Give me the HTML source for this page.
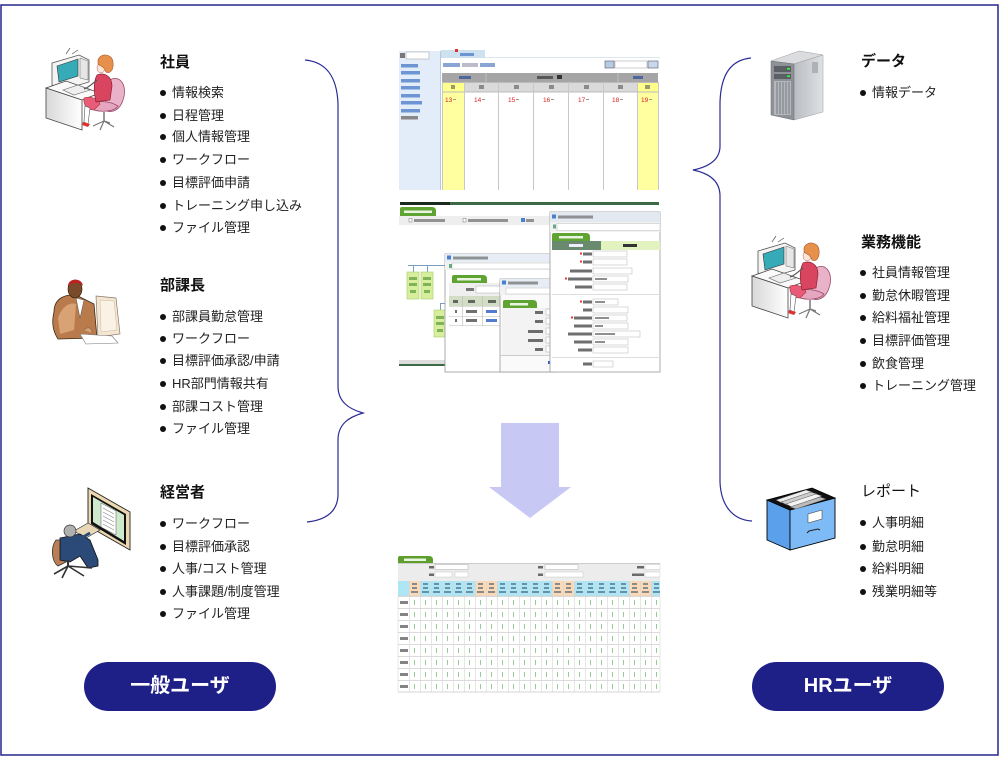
<!DOCTYPE html>
<html><head><meta charset="utf-8">
<style>
html,body{margin:0;padding:0;background:#fff;}
body{width:1000px;height:761px;position:relative;overflow:hidden;font-family:"Liberation Sans","Noto Sans CJK JP",sans-serif;color:#1a1a1a;}
svg{position:absolute;left:0;top:0;}
.h{position:absolute;font-size:15px;line-height:18px;font-weight:bold;color:#111;white-space:nowrap;}
.it{position:absolute;font-size:13px;line-height:16px;padding-left:12px;white-space:nowrap;color:#222;}
.it::before{content:"";position:absolute;left:0;top:5px;width:6px;height:6px;border-radius:50%;background:#111;}
.btn{position:absolute;width:192px;height:49px;border-radius:25px;background:#1f1f88;color:#fff;font-size:20px;font-weight:bold;text-align:center;line-height:49px;}
</style></head><body>
<svg width="1000" height="761" viewBox="0 0 1000 761" xmlns="http://www.w3.org/2000/svg">
<defs>
<linearGradient id="srvSide" x1="0" y1="0" x2="1" y2="0"><stop offset="0" stop-color="#b9bcc1"/><stop offset="1" stop-color="#dfe1e3"/></linearGradient>
<linearGradient id="deskG" x1="0" y1="0" x2="1" y2="0"><stop offset="0" stop-color="#d8d8d8"/><stop offset="1" stop-color="#ffffff"/></linearGradient>
<g id="woman">
 <!-- monitor -->
 <polygon points="52,63 79,55 89,60 89,82 62,90 52,85" fill="#f4f4f4" stroke="#555" stroke-width="0.8"/>
 <polygon points="57,66 78,59 78,76 59,82" fill="#36aab6" stroke="#333" stroke-width="0.6"/>
 <polygon points="80,58 88,61 88,80 80,78" fill="#e6e6e6" stroke="#666" stroke-width="0.5"/>
 <line x1="66" y1="54" x2="70" y2="48" stroke="#555" stroke-width="0.7"/>
 <line x1="72" y1="54" x2="78" y2="50" stroke="#555" stroke-width="0.7"/>
 <!-- desk -->
 <polygon points="46,88 66,81 100,93 82,100" fill="#fafafa" stroke="#444" stroke-width="0.8"/>
 <polygon points="46,88 82,100 82,130 46,118" fill="url(#deskG)" stroke="#444" stroke-width="0.8"/>
 <polygon points="63,90 78,85 90,90 74,95" fill="#eee" stroke="#666" stroke-width="0.6"/>
 <!-- chair -->
 <path d="M110,80 C120,74 128,86 123,100 C120,110 112,114 104,110 Z" fill="#eab2c8" stroke="#9a4a6a" stroke-width="0.8"/>
 <path d="M90,104 C96,100 110,101 118,106 C114,112 98,113 90,108 Z" fill="#e6a6c0" stroke="#9a4a6a" stroke-width="0.8"/>
 <line x1="104" y1="112" x2="104" y2="121" stroke="#777" stroke-width="1.5"/>
 <path d="M93,126 L104,121 L114,127 M104,121 L100,130 M104,121 L110,123" stroke="#777" stroke-width="1.2" fill="none"/>
 <!-- woman -->
 <path d="M84,98 C90,96 98,98 100,104 L94,110 C88,110 83,106 84,98 Z" fill="#e85c7a" stroke="#a33" stroke-width="0.6"/>
 <path d="M85,106 L84,122 L88,124 L90,108 Z" fill="#fff" stroke="#555" stroke-width="0.6"/>
 <path d="M83,122 L90,124 L88,127 L82,125 Z" fill="#d33"/>
 <path d="M97,75 C104,72 112,76 112,86 L110,100 L96,102 C94,94 93,82 97,75 Z" fill="#d9455f" stroke="#8a2030" stroke-width="0.7"/>
 <path d="M97,80 C92,84 88,88 84,89" stroke="#555" stroke-width="1.2" fill="none"/>
 <ellipse cx="101" cy="68" rx="4" ry="5" fill="#fde4d4" stroke="#a66" stroke-width="0.5"/>
 <path d="M98,60 C100,53 112,53 113,62 C114,70 110,74 106,72 C104,66 100,66 98,64 Z" fill="#e6904c" stroke="#a65a2a" stroke-width="0.6"/>
</g>
</defs>

<!-- outer border -->
<rect x="1" y="5" width="997" height="750" fill="none" stroke="#26268c" stroke-width="1.5"/>

<!-- braces -->
<path d="M305,60 C326,62 337,76 338,104 L338,386 C338,402 349,409 363,413 C349,417 338,424 338,440 L338,496 C337,512 326,520 307,522" fill="none" stroke="#2b2b95" stroke-width="1.2"/>
<path d="M751,58 C731,60 721,74 720,102 L720,146 C720,160 708,167 693,170 C708,173 720,180 720,196 L720,482 C721,506 733,520 752,521" fill="none" stroke="#2b2b95" stroke-width="1.2"/>

<!-- icon 1 woman -->
<use href="#woman"/>
<!-- right woman -->
<use href="#woman" x="706" y="188"/>

<!-- manager icon -->
<g>
 <path d="M54,312 C54,298 66,293 78,296 L94,304 L97,338 L58,339 C52,330 52,320 54,312 Z" fill="#b97a4c" stroke="#3a2a1a" stroke-width="0.8"/>
 <path d="M58,318 C62,306 70,302 76,304 L74,330 L60,334 Z" fill="#d9a274"/>
 <path d="M76,298 L80,318 L84,300 Z" fill="#fff" stroke="#555" stroke-width="0.5"/>
 <ellipse cx="75" cy="289" rx="7" ry="9" fill="#7a4a2a" stroke="#2a1a0a" stroke-width="0.6"/>
 <path d="M68,286 C68,278 82,277 83,286 C80,282 72,282 68,286 Z" fill="#b22"/>
 <polygon points="96,296 116,298 120,334 98,337" fill="#f4e6d2" stroke="#8a7a6a" stroke-width="0.7"/>
 <polygon points="100,300 114,301 117,330 101,332" fill="#fbf2e6" stroke="#c9b8a2" stroke-width="0.5"/>
 <polygon points="80,334 112,336 118,343 86,344" fill="#fff" stroke="#777" stroke-width="0.6"/>
 <path d="M84,330 C88,326 92,328 92,333" fill="#d9a274" stroke="#555" stroke-width="0.5"/>
</g>

<!-- executive icon -->
<g>
 <polygon points="88,488 130,512 130,550 88,526" fill="#ecd8b0" stroke="#222" stroke-width="0.9"/>
 <polygon points="91,494 126,514 126,545 91,524" fill="#111"/>
 <polygon points="93,497 124,515 124,541 93,522" fill="#cfe9cc"/>
 <polygon points="101,503 116,511 116,535 101,527" fill="#fff" stroke="#555" stroke-width="0.5"/>
 <path d="M103,508 L114,514 M103,512 L114,518 M103,516 L114,522 M103,520 L114,526 M103,524 L114,530" stroke="#888" stroke-width="0.6"/>
 <polygon points="74,531 88,523 100,530 86,538" fill="#e8d8b8" stroke="#333" stroke-width="0.7"/>
 <path d="M56,540 C50,548 52,562 58,566 L66,562 L64,540 Z" fill="#b98058" stroke="#333" stroke-width="0.8"/>
 <path d="M60,538 L80,534 L90,540 L98,560 L98,566 L88,568 L80,556 L70,562 L60,560 Z" fill="#2b4a78" stroke="#111" stroke-width="0.8"/>
 <path d="M78,540 L90,533" stroke="#2b4a78" stroke-width="3"/>
 <circle cx="70" cy="531" r="6" fill="#b0b0b0" stroke="#333" stroke-width="0.7"/>
 <path d="M68,566 L54,574 M68,566 L62,578 M68,566 L84,576 M68,566 L92,568" stroke="#333" stroke-width="1.6"/>
 <line x1="68" y1="560" x2="68" y2="567" stroke="#333" stroke-width="2"/>
</g>

<!-- server icon -->
<g>
 <polygon points="771,61 799,51 823,55 794,64" fill="#dadcde" stroke="#9a9da2" stroke-width="0.5"/>
 <polygon points="794,64 823,55 823,112 794,120" fill="url(#srvSide)" stroke="#9a9da2" stroke-width="0.5"/>
 <polygon points="771,61 794,64 794,120 771,115" fill="#8e9297" stroke="#6a6e73" stroke-width="0.5"/>
 <rect x="774" y="66" width="17" height="6" fill="#5c6066"/>
 <rect x="774" y="74" width="17" height="5" fill="#5c6066"/>
 <rect x="787" y="68" width="3" height="1.5" fill="#3f3"/>
 <rect x="787" y="75.5" width="3" height="1.5" fill="#3f3"/>
 <rect x="774" y="81" width="17" height="34" fill="#b4b8bd"/>
 <path d="M777,82 V114 M780,82 V114 M783,82 V114 M786,82 V114 M789,82 V114" stroke="#6a6e74" stroke-width="0.8"/>
 <rect x="812" y="62" width="6" height="11" fill="#aeb1b6"/>
</g>

<!-- file cabinet -->
<g>
 <polygon points="767,500 790,510 790,550 767,540" fill="#5aa0ea" stroke="#000" stroke-width="0.9"/>
 <polygon points="790,510 835,498 835,538 790,550" fill="#7dbaf6" stroke="#000" stroke-width="0.9"/>
 <polygon points="767,500 812,488 835,498 790,510" fill="#111" stroke="#000" stroke-width="0.8"/>
 <polygon points="776,500 806,490 812,492 782,503" fill="#eee" stroke="#555" stroke-width="0.5"/>
 <polygon points="781,502 811,492 817,494 787,505" fill="#ccc" stroke="#555" stroke-width="0.5"/>
 <polygon points="786,504 816,494 822,496 792,507" fill="#f4f4f4" stroke="#555" stroke-width="0.5"/>
 <polygon points="790,507 820,497 826,499 796,509" fill="#bbb" stroke="#555" stroke-width="0.5"/>
 <polygon points="808,514 822,510 822,519 808,523" fill="#fff" stroke="#333" stroke-width="0.5"/>
 <path d="M807,533 L809,531 L818,529 L820,530" stroke="#222" stroke-width="1" fill="none"/>
</g>

<!-- ================= screenshot 1 ================= -->
<g>
 <rect x="399" y="48" width="261" height="142" fill="#fff"/>
 <rect x="399" y="51" width="41" height="139" fill="#e3edf9"/>
 <line x1="440.5" y1="51" x2="440.5" y2="190" stroke="#b9c9dd"/>
 <rect x="400" y="53" width="5" height="5" fill="#777"/>
 <rect x="406" y="52" width="23" height="7" fill="#fff" stroke="#aaa" stroke-width="0.6"/>
 <rect x="401" y="64" width="17" height="3.5" fill="#6d95d3"/>
 <rect x="401" y="71" width="19" height="3.5" fill="#6d95d3"/>
 <rect x="401" y="79" width="19" height="3.5" fill="#6d95d3"/>
 <rect x="401" y="86" width="19" height="3.5" fill="#6d95d3"/>
 <rect x="401" y="94" width="19" height="3.5" fill="#6d95d3"/>
 <rect x="401" y="101" width="21" height="3.5" fill="#6d95d3"/>
 <rect x="401" y="109" width="19" height="3.5" fill="#6d95d3"/>
 <rect x="401" y="116" width="17" height="3.5" fill="#888"/>
 <rect x="441" y="50" width="44" height="8" fill="#cde2ee"/>
 <rect x="455" y="49" width="3" height="3" fill="#d33"/>
 <rect x="460" y="53" width="14" height="3" fill="#6d95d3"/>
 <line x1="485" y1="57.5" x2="660" y2="57.5" stroke="#dde6ee"/>
 <rect x="443" y="63" width="17" height="4" fill="#6d8fc8" opacity="0.8"/>
 <rect x="462" y="63" width="16" height="4" fill="#aab" opacity="0.8"/>
 <rect x="480" y="63" width="15" height="4" fill="#6d8fc8" opacity="0.8"/>
 <rect x="605" y="61" width="9" height="7" fill="#b8cbe0" stroke="#557" stroke-width="0.6"/>
 <rect x="615" y="61" width="32" height="7" fill="#fff" stroke="#aaa" stroke-width="0.6"/>
 <rect x="648" y="61" width="10" height="7" fill="#c8d8e8" stroke="#557" stroke-width="0.6"/>
 <rect x="442" y="73" width="216" height="9" fill="#a5a5a5"/>
 <line x1="486" y1="73" x2="486" y2="82" stroke="#c0c0c0"/>
 <line x1="618" y1="73" x2="618" y2="82" stroke="#c0c0c0"/>
 <rect x="459" y="76" width="12" height="3" fill="#2a4a9a" opacity="0.7"/>
 <rect x="537" y="76" width="16" height="3" fill="#444" opacity="0.8"/>
 <rect x="557" y="75" width="5" height="4" fill="#333"/>
 <rect x="633" y="76" width="10" height="3" fill="#2a4a9a" opacity="0.7"/>
 <rect x="442" y="82" width="22" height="108" fill="#ffffa0"/>
 <rect x="637" y="82" width="21" height="108" fill="#ffffa0"/>
 <rect x="464" y="82" width="173" height="10" fill="#dadada"/>
 <rect x="442" y="82" width="22" height="10" fill="#ffff8c"/>
 <rect x="637" y="82" width="21" height="10" fill="#ffff8c"/>
 <line x1="442" y1="82.5" x2="658" y2="82.5" stroke="#bbb"/>
 <line x1="442" y1="92" x2="658" y2="92" stroke="#bbb"/>
 <path d="M442.5,82V190 M464.5,82V190 M498.5,82V190 M533.5,82V190 M568.5,82V190 M603.5,82V190 M637.5,82V190 M658.5,82V190" stroke="#c8c8c8"/>
 <path d="M451,85h4v4h-4z M479,85h5v4h-5z M514,85h5v4h-5z M549,85h5v4h-5z M584,85h5v4h-5z M618,85h5v4h-5z M645,85h5v4h-5z" fill="#555" opacity="0.6"/>
 <g font-family="Liberation Sans, sans-serif" font-size="6.5" fill="#e02020">
  <text x="445" y="102">13</text><text x="474" y="102">14</text><text x="508" y="102">15</text><text x="543" y="102">16</text><text x="578" y="102">17</text><text x="612" y="102">18</text><text x="641" y="102">19</text>
 </g>
 <path d="M453,99.5h3 M482,99.5h3 M516,99.5h3 M551,99.5h3 M586,99.5h3 M620,99.5h3 M649,99.5h3" stroke="#999"/>
</g>

<!-- ================= screenshot 2 ================= -->
<g>
 <rect x="399" y="200" width="261" height="172" fill="#fff"/>
 <rect x="400" y="202" width="259" height="3" fill="#3c6a44"/>
 <rect x="400" y="202" width="50" height="3" fill="#1a2a1e"/>
 <path d="M400,216 V209 Q400,207 402,207 H432 Q436,207 436,211 V216 Z" fill="#5fa332"/>
 <rect x="404" y="210.5" width="28" height="2.5" fill="#e8f5e0"/>
 <rect x="399" y="216" width="152" height="9" fill="#eeeeee"/>
 <rect x="409" y="218.5" width="3" height="3.5" fill="#fff" stroke="#777" stroke-width="0.5"/>
 <rect x="414" y="219" width="31" height="3" fill="#555" opacity="0.6"/>
 <rect x="463" y="218.5" width="3" height="3.5" fill="#fff" stroke="#777" stroke-width="0.5"/>
 <rect x="468" y="219" width="40" height="3" fill="#555" opacity="0.6"/>
 <rect x="521" y="218" width="4" height="4" fill="#4a7fd0"/>
 <rect x="526" y="219" width="8" height="3" fill="#555" opacity="0.6"/>
 <!-- tree -->
 <line x1="408" y1="265.5" x2="446" y2="265.5" stroke="#7a9ec0"/>
 <line x1="413.5" y1="265" x2="413.5" y2="272" stroke="#7a9ec0"/>
 <line x1="427.5" y1="265" x2="427.5" y2="272" stroke="#7a9ec0"/>
 <path d="M440.5,310 V303.5 H446" stroke="#7a9ec0" fill="none"/>
 <rect x="407" y="272" width="12" height="27" fill="#d7ef9c" stroke="#a8cc6a" stroke-width="0.6"/>
 <rect x="421" y="272" width="12" height="27" fill="#d7ef9c" stroke="#a8cc6a" stroke-width="0.6"/>
 <rect x="434" y="310" width="11" height="27" fill="#d7ef9c" stroke="#a8cc6a" stroke-width="0.6"/>
 <path d="M409,277h8v3h-8z M409,283h8v3h-8z M410,290h6v3h-6z M423,277h8v3h-8z M423,283h8v3h-8z M424,290h6v3h-6z M436,316h8v3h-8z M436,322h8v3h-8z M437,329h6v3h-6z" fill="#5a9a3a" opacity="0.7"/>
 <rect x="399" y="360" width="46" height="4" fill="#ddd"/>
 <rect x="399" y="364" width="46" height="2" fill="#3c6a44"/>
 <!-- window A -->
 <rect x="445" y="254" width="110" height="118" fill="#fff" stroke="#9a9a9a" stroke-width="0.8"/>
 <rect x="445" y="254" width="110" height="8" fill="#e7edf4"/>
 <rect x="447" y="255.5" width="4" height="4" fill="#4a7fd0"/>
 <rect x="453" y="256.5" width="35" height="3" fill="#555" opacity="0.6"/>
 <rect x="445" y="262" width="110" height="8" fill="#f2f2f2"/>
 <rect x="452" y="263" width="100" height="6" fill="#fff" stroke="#bbb" stroke-width="0.5"/>
 <rect x="449" y="264" width="3" height="4" fill="#6a8"/>
 <path d="M452,283 V277 Q452,275 454,275 H483 Q487,275 487,279 V283 Z" fill="#5fa332"/>
 <rect x="457" y="278" width="24" height="2.5" fill="#e8f5e0"/>
 <rect x="449" y="283" width="104" height="13" fill="#efefef"/>
 <rect x="466" y="288" width="8" height="3" fill="#444" opacity="0.7"/>
 <rect x="476" y="286" width="30" height="7" fill="#fff" stroke="#aaa" stroke-width="0.5"/>
 <rect x="449" y="296" width="104" height="10" fill="#d3ddc6"/>
 <path d="M449,306.5H553 M449,316.5H553 M449,325.5H553 M462.5,296V326 M482.5,296V326 M503.5,296V326" stroke="#bbb" stroke-width="0.6"/>
 <path d="M453,300h5v3h-5z M468,300h7v3h-7z M488,300h8v3h-8z M455,310h2v3h-2z M466,310h11v3h-11z M455,319h2v3h-2z M466,319h11v3h-11z" fill="#333" opacity="0.7"/>
 <path d="M486,310h11v3h-11z M486,319h11v3h-11z" fill="#2a5ac0" opacity="0.8"/>
 <!-- window B -->
 <rect x="500" y="279" width="55" height="93" fill="#fafafa" stroke="#999" stroke-width="0.8"/>
 <rect x="500" y="279" width="55" height="8" fill="#e7edf4"/>
 <rect x="502" y="280.5" width="4" height="4" fill="#4a7fd0"/>
 <rect x="508" y="281.5" width="30" height="3" fill="#555" opacity="0.6"/>
 <rect x="500" y="287" width="55" height="8" fill="#f2f2f2"/>
 <rect x="506" y="288" width="49" height="6" fill="#fff" stroke="#bbb" stroke-width="0.5"/>
 <path d="M503,308 V302 Q503,300 505,300 H533 Q537,300 537,304 V308 Z" fill="#5fa332"/>
 <rect x="510" y="303" width="18" height="2.5" fill="#e8f5e0"/>
 <rect x="502" y="308" width="53" height="47" fill="#f3f3f3"/>
 <path d="M535,311h8v3h-8z M535,320h8v3h-8z M528,330h15v3h-15z M528,339h15v3h-15z M535,348h8v3h-8z" fill="#333" opacity="0.7"/>
 <path d="M546,309h9v6h-9z M546,318h9v6h-9z M546,328h9v6h-9z M546,337h9v6h-9z M546,346h9v6h-9z" fill="#fff" stroke="#aaa" stroke-width="0.5"/>
 <line x1="500" y1="355.5" x2="555" y2="355.5" stroke="#ccc"/>
 <rect x="548" y="361" width="3" height="3" fill="#2a5ac0"/>
 <!-- window C -->
 <rect x="550" y="212" width="110" height="160" fill="#fff" stroke="#999" stroke-width="0.8"/>
 <rect x="550" y="212" width="110" height="10" fill="#e3e9f1"/>
 <rect x="552" y="214.5" width="4" height="4" fill="#4a7fd0"/>
 <rect x="558" y="215.5" width="35" height="3" fill="#555" opacity="0.6"/>
 <rect x="550" y="222" width="110" height="10" fill="#f2f2f2"/>
 <rect x="557" y="223.5" width="103" height="7" fill="#fff" stroke="#bbb" stroke-width="0.5"/>
 <rect x="553" y="224.5" width="3" height="4" fill="#6a8"/>
 <path d="M552,241 V235 Q552,233 554,233 H586 Q590,233 590,237 V241 Z" fill="#5fa332"/>
 <rect x="559" y="236" width="24" height="2.5" fill="#e8f5e0"/>
 <rect x="552" y="241" width="49" height="9" fill="#6a8a70"/>
 <rect x="601" y="241" width="59" height="9" fill="#e3f3c0"/>
 <rect x="569" y="244" width="14" height="3" fill="#eef"/>
 <rect x="623" y="244" width="14" height="3" fill="#333"/>
 <g fill="#333" opacity="0.7">
  <rect x="583" y="252.5" width="9" height="3"/><rect x="583" y="260.5" width="9" height="3"/><rect x="570" y="269.5" width="22" height="3"/><rect x="568" y="277.5" width="24" height="3"/><rect x="575" y="285.5" width="17" height="3"/>
  <rect x="583" y="300.5" width="9" height="3"/><rect x="583" y="308.5" width="9" height="3"/><rect x="574" y="316.5" width="18" height="3"/><rect x="574" y="324.5" width="18" height="3"/><rect x="568" y="332.5" width="24" height="3"/><rect x="574" y="340.5" width="18" height="3"/><rect x="578" y="348.5" width="14" height="3"/><rect x="583" y="362.5" width="9" height="3"/>
 </g>
 <g fill="#e33">
  <rect x="580" y="252.5" width="2" height="2"/><rect x="580" y="260.5" width="2" height="2"/><rect x="565" y="277.5" width="2" height="2"/><rect x="580" y="300.5" width="2" height="2"/><rect x="571" y="316.5" width="2" height="2"/>
 </g>
 <g fill="#fff" stroke="#b5b5b5" stroke-width="0.5">
  <rect x="593" y="251" width="34" height="6"/><rect x="593" y="259" width="34" height="6"/><rect x="593" y="268" width="39" height="6"/><rect x="593" y="276" width="35" height="6"/><rect x="593" y="284" width="34" height="6"/>
  <rect x="593" y="299" width="25" height="6"/><rect x="593" y="307" width="35" height="6"/><rect x="593" y="315" width="34" height="6"/><rect x="593" y="323" width="35" height="6"/><rect x="593" y="331" width="47" height="6"/><rect x="593" y="339" width="35" height="6"/><rect x="593" y="347" width="35" height="6"/><rect x="593" y="361" width="20" height="6"/>
 </g>
 <path d="M595,278h12v2h-12z M595,301h10v2h-10z M595,317h14v2h-14z M595,325h8v2h-8z M595,333h20v2h-20z M595,341h10v2h-10z" fill="#444" opacity="0.6"/>
 <line x1="552" y1="294.5" x2="660" y2="294.5" stroke="#ddd"/>
 <line x1="552" y1="357.5" x2="660" y2="357.5" stroke="#ddd"/>
</g>

<!-- arrow -->
<polygon points="501,423 559,423 559,487 571,487 530,518 489,487 501,487" fill="#c8c8f5"/>

<!-- ================= screenshot 3 ================= -->
<g>
 <path d="M398,563 V558 Q398,556 400,556 H429 Q433,556 433,560 V563 Z" fill="#5d9e2c"/>
 <rect x="404" y="558.5" width="22" height="2.5" fill="#e8f5e0"/>
 <rect x="398" y="563" width="262" height="18" fill="#ececec"/>
 <line x1="398" y1="563.5" x2="660" y2="563.5" stroke="#ccc"/>
 <rect x="429" y="566" width="5" height="2.5" fill="#333" opacity="0.7"/>
 <rect x="435" y="564.5" width="33" height="5" fill="#fff" stroke="#aaa" stroke-width="0.5"/>
 <rect x="429" y="573.5" width="5" height="2.5" fill="#333" opacity="0.7"/>
 <rect x="435" y="572" width="17" height="5" fill="#fff" stroke="#bbb" stroke-width="0.4"/>
 <rect x="455" y="572" width="13" height="5" fill="#fff" stroke="#bbb" stroke-width="0.4"/>
 <rect x="538" y="566" width="5" height="2.5" fill="#333" opacity="0.7"/>
 <rect x="545" y="564.5" width="33" height="5" fill="#fff" stroke="#aaa" stroke-width="0.5"/>
 <rect x="538" y="573.5" width="5" height="2.5" fill="#333" opacity="0.7"/>
 <rect x="545" y="572" width="38" height="5" fill="#fff" stroke="#bbb" stroke-width="0.4"/>
 <rect x="637" y="566" width="7" height="2.5" fill="#333" opacity="0.7"/>
 <rect x="645" y="564.5" width="15" height="5" fill="#fff" stroke="#bbb" stroke-width="0.4"/>
 <rect x="632" y="573.5" width="12" height="2.5" fill="#333" opacity="0.7"/>
 <rect x="645" y="572" width="15" height="5" fill="#fff" stroke="#bbb" stroke-width="0.4"/>
 <!-- header row -->
 <rect x="398" y="581" width="262" height="15" fill="#aee6f6"/>
 <g fill="#fbd8b6">
  <rect x="409" y="581" width="11" height="15"/>
  <rect x="475" y="581" width="22" height="15"/>
  <rect x="552" y="581" width="22" height="15"/>
  <rect x="629" y="581" width="22" height="15"/>
 </g>
 <g fill="#fff" stroke="#d0d0d0" stroke-width="0.5">
  <rect x="398" y="596" width="262" height="96"/>
 </g>
 <path d="M398,596.5H660 M398,608.5H660 M398,620.5H660 M398,632.5H660 M398,644.5H660 M398,656.5H660 M398,668.5H660 M398,680.5H660 M398,692H660" stroke="#d0d0d0" stroke-width="0.7"/>
 <path d="M409.5,581V692 M420.5,581V692 M431.5,581V692 M442.5,581V692 M453.5,581V692 M464.5,581V692 M475.5,581V692 M486.5,581V692 M497.5,581V692 M508.5,581V692 M519.5,581V692 M530.5,581V692 M541.5,581V692 M552.5,581V692 M563.5,581V692 M574.5,581V692 M585.5,581V692 M596.5,581V692 M607.5,581V692 M618.5,581V692 M629.5,581V692 M640.5,581V692 M651.5,581V692" stroke="#d6d6d6" stroke-width="0.6"/>
 <g fill="#2a4a6a" opacity="0.55">
  <rect x="412" y="583" width="5" height="2"/><rect x="412" y="587" width="5" height="2"/><rect x="411" y="591" width="7" height="2"/>
 </g>
 <path id="hdr" d="M423,583h5v2h-5z M423,587h5v2h-5z M422,591h7v2h-7z" fill="#2a4a6a" opacity="0.55"/>
 <use href="#hdr" x="11"/><use href="#hdr" x="22"/><use href="#hdr" x="33"/><use href="#hdr" x="44"/><use href="#hdr" x="55"/><use href="#hdr" x="66"/><use href="#hdr" x="77"/><use href="#hdr" x="88"/><use href="#hdr" x="99"/><use href="#hdr" x="110"/><use href="#hdr" x="121"/><use href="#hdr" x="132"/><use href="#hdr" x="143"/><use href="#hdr" x="154"/><use href="#hdr" x="165"/><use href="#hdr" x="176"/><use href="#hdr" x="187"/><use href="#hdr" x="198"/><use href="#hdr" x="209"/><use href="#hdr" x="220"/><use href="#hdr" x="231"/>
 <g fill="#333" opacity="0.6">
  <rect x="400" y="601" width="8" height="3"/><rect x="400" y="613" width="8" height="3"/><rect x="400" y="625" width="8" height="3"/><rect x="400" y="637" width="8" height="3"/><rect x="400" y="649" width="8" height="3"/><rect x="400" y="661" width="8" height="3"/><rect x="400" y="673" width="8" height="3"/><rect x="400" y="685" width="8" height="3"/>
 </g>
 <path id="gcol" d="M414.5,600v5 M414.5,612v5 M414.5,624v5 M414.5,636v5 M414.5,648v5 M414.5,660v5 M414.5,672v5 M414.5,684v5" stroke="#8cc88c" stroke-width="0.9"/>
 <use href="#gcol" x="11"/><use href="#gcol" x="22"/><use href="#gcol" x="33"/><use href="#gcol" x="44"/><use href="#gcol" x="55"/><use href="#gcol" x="66"/><use href="#gcol" x="77"/><use href="#gcol" x="88"/><use href="#gcol" x="99"/><use href="#gcol" x="110"/><use href="#gcol" x="121"/><use href="#gcol" x="132"/><use href="#gcol" x="143"/><use href="#gcol" x="154"/><use href="#gcol" x="165"/><use href="#gcol" x="176"/><use href="#gcol" x="187"/><use href="#gcol" x="198"/><use href="#gcol" x="209"/><use href="#gcol" x="220"/><use href="#gcol" x="231"/><use href="#gcol" x="242"/>
</g>
</svg>

<!-- left text -->
<div class="h" style="left:160px;top:54px">社員</div>
<div class="it" style="left:160px;top:85px">情報検索</div>
<div class="it" style="left:160px;top:108px">日程管理</div>
<div class="it" style="left:160px;top:129px">個人情報管理</div>
<div class="it" style="left:160px;top:152px">ワークフロー</div>
<div class="it" style="left:160px;top:175px">目標評価申請</div>
<div class="it" style="left:160px;top:198px">トレーニング申し込み</div>
<div class="it" style="left:160px;top:220px">ファイル管理</div>

<div class="h" style="left:160px;top:277px">部課長</div>
<div class="it" style="left:160px;top:309px">部課員勤怠管理</div>
<div class="it" style="left:160px;top:331px">ワークフロー</div>
<div class="it" style="left:160px;top:353px">目標評価承認/申請</div>
<div class="it" style="left:160px;top:376px">HR部門情報共有</div>
<div class="it" style="left:160px;top:399px">部課コスト管理</div>
<div class="it" style="left:160px;top:421px">ファイル管理</div>

<div class="h" style="left:160px;top:484px">経営者</div>
<div class="it" style="left:160px;top:516px">ワークフロー</div>
<div class="it" style="left:160px;top:539px">目標評価承認</div>
<div class="it" style="left:160px;top:561px">人事/コスト管理</div>
<div class="it" style="left:160px;top:584px">人事課題/制度管理</div>
<div class="it" style="left:160px;top:606px">ファイル管理</div>

<!-- right text -->
<div class="h" style="left:861px;top:53px">データ</div>
<div class="it" style="left:860px;top:85px">情報データ</div>

<div class="h" style="left:861px;top:234px">業務機能</div>
<div class="it" style="left:860px;top:265px">社員情報管理</div>
<div class="it" style="left:860px;top:288px">勤怠休暇管理</div>
<div class="it" style="left:860px;top:310px">給料福祉管理</div>
<div class="it" style="left:860px;top:333px">目標評価管理</div>
<div class="it" style="left:860px;top:356px">飲食管理</div>
<div class="it" style="left:860px;top:378px">トレーニング管理</div>

<div class="h" style="left:861px;top:483px;font-weight:normal">レポート</div>
<div class="it" style="left:860px;top:515px">人事明細</div>
<div class="it" style="left:860px;top:539px">勤怠明細</div>
<div class="it" style="left:860px;top:561px">給料明細</div>
<div class="it" style="left:860px;top:584px">残業明細等</div>

<div class="btn" style="left:84px;top:662px">一般ユーザ</div>
<div class="btn" style="left:752px;top:662px">HRユーザ</div>
</body></html>
